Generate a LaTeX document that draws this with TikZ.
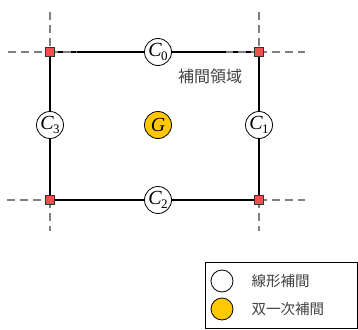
\documentclass[tikz,border=0pt]{standalone}
\usepackage{fontspec}
\setmainfont{Liberation Serif}
\newfontfamily\jp{Noto Sans CJK JP}
\definecolor{gold}{HTML}{FFC800}
\definecolor{sqred}{HTML}{F05050}
\definecolor{txtgray}{HTML}{404040}
\begin{document}
\begin{tikzpicture}[x=1pt,y=-1pt,
  gridline/.style={gray,line width=2.2pt,dash pattern=on 8pt off 5pt},
  edge/.style={black,line width=1.2pt},
  cnode/.style={circle,draw=black,line width=0.8pt,fill=white,minimum size=27pt,inner sep=0pt,font=\fontsize{20}{20}\selectfont},
  gnode/.style={cnode,fill=gold},
  corner/.style={rectangle,draw=black!80,line width=0.5pt,fill=sqred,minimum size=9pt,inner sep=0pt},
  lbl/.style={font=\jp\fontsize{16}{16}\selectfont,text=txtgray},
  leg/.style={font=\jp\fontsize{14.5}{14.5}\selectfont,text=txtgray,anchor=west},
  legc/.style={circle,draw=black,line width=0.8pt,minimum size=22pt,inner sep=0pt}]
\useasboundingbox (0,0) rectangle (358,329);
\coordinate (p00) at (50,52);
\coordinate (p10) at (259,52);
\coordinate (p11) at (259,200);
\coordinate (p01) at (50,200);
% solid edges
\draw[edge] (p00) -- (p10) -- (p11) -- (p01) -- cycle;
% dashed grid
\coordinate (hl0) at (8,52); \coordinate (hr0) at (305,52);
\coordinate (hl1) at (7,200); \coordinate (hr1) at (305,200);
\coordinate (vt0) at (50,12); \coordinate (vb0) at (50,231);
\coordinate (vt1) at (259,12); \coordinate (vb1) at (259,231);
\draw[gridline] (hl0) -- (p00);
\draw[gridline] (p10) -- (hr0);
\draw[gridline] (p00) -- ++(27,0);
\draw[gridline] (p10) -- ++(-33,0);
\draw[gridline] (hl1) -- (p01);
\draw[gridline] (p11) -- (hr1);
\draw[gridline] (vt0) -- (p00);
\draw[gridline] (vt1) -- (p10);
\draw[gridline] (p01) -- (vb0);
\draw[gridline] (p11) -- (vb1);
% nodes
\node[cnode] (c0) at (158,52) {\textit{C}\kern-1pt\raisebox{-4pt}{\fontsize{13}{13}\selectfont 0}};
\node[cnode] (c1) at (259,125) {\textit{C}\kern-1pt\raisebox{-4pt}{\fontsize{13}{13}\selectfont 1}};
\node[cnode] (c2) at (158,200) {\textit{C}\kern-1pt\raisebox{-4pt}{\fontsize{13}{13}\selectfont 2}};
\node[cnode] (c3) at (50,125) {\textit{C}\kern-1pt\raisebox{-4pt}{\fontsize{13}{13}\selectfont 3}};
\node[gnode] (g) at (158,125) {\textit{G}};
\node[corner] (s00) at (p00) {};
\node[corner] (s10) at (p10) {};
\node[corner] (s11) at (p11) {};
\node[corner] (s01) at (p01) {};
\node[lbl] (area) at (210,76) {補間領域};
% legend
\node[draw=black,line width=0.6pt,minimum width=152pt,minimum height=66pt,inner sep=0pt] (legbox) at (281,295) {};
\node[legc,fill=white] (lc1) at (222,281) {};
\node[legc,fill=gold] (lc2) at (222,309) {};
\node[leg] (lt1) at (248,281) {線形補間};
\node[leg] (lt2) at (248,309) {双一次補間};
\end{tikzpicture}
\end{document}
